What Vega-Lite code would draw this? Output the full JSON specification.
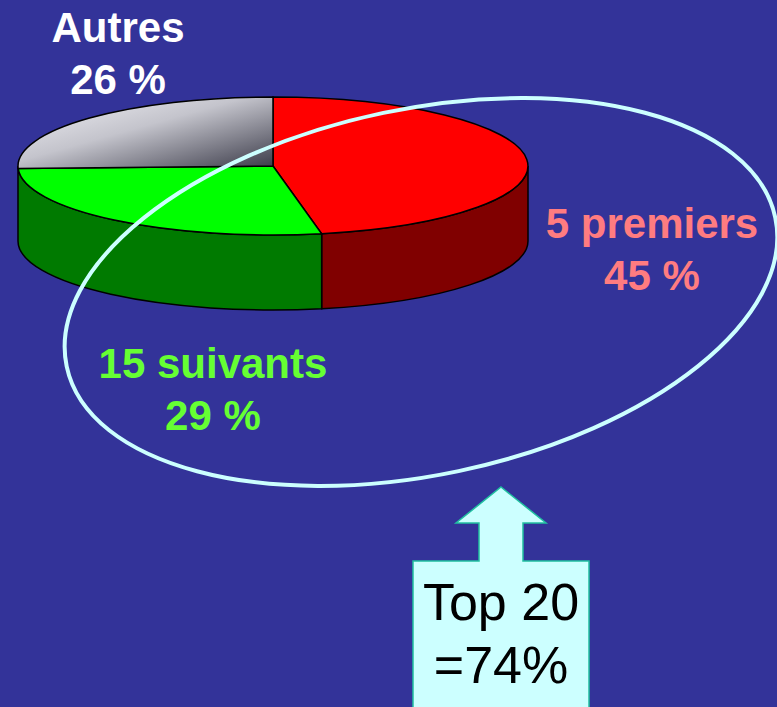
{
  "$schema": "https://vega.github.io/schema/vega-lite/v6.json",
  "width": 777,
  "height": 707,
  "autosize": {"type": "none"},
  "padding": 0,
  "background": "#333399",
  "config": {"view": {"stroke": null}},
  "datasets": {
    "slices": [
      {"part": "5 premiers", "pct": 45, "label": ["5 premiers", "45 %"]},
      {"part": "15 suivants", "pct": 29, "label": ["15 suivants", "29 %"]},
      {"part": "Autres", "pct": 26, "label": ["Autres", "26 %"]}
    ],
    "top20": [
      {"group": "Top 20", "pct": 74, "label": ["Top 20", "=74%"]}
    ]
  },
  "resolve": {"scale": {"shape": "independent", "color": "independent"}},
  "layer": [
    {
      "data": {"name": "slices"},
      "transform": [{"filter": {"field": "part", "oneOf": ["5 premiers", "15 suivants"]}}],
      "mark": {"type": "point", "filled": true, "opacity": 1, "size": 40000, "stroke": "#000000", "strokeWidth": 1.5},
      "encoding": {
        "x": {"datum": 35.135, "type": "quantitative", "scale": {"domain": [0, 100]}, "axis": null},
        "y": {"datum": 76.52, "type": "quantitative", "scale": {"domain": [0, 100]}, "axis": null},
        "shape": {"field": "part", "type": "nominal", "legend": null, "scale": {"domain": ["5 premiers", "15 suivants"], "range": ["M 2.55 0 A 2.55 0.69 0 0 1 0.4866 0.6773 L 0.4866 1.4273 A 2.55 0.69 0 0 0 2.55 0.75 Z", "M 0.4866 0.6773 A 2.55 0.69 0 0 1 -2.55 0 L -2.55 0.75 A 2.55 0.69 0 0 0 0.4866 1.4273 Z"]}},
        "color": {"field": "part", "type": "nominal", "legend": null, "scale": {"domain": ["5 premiers", "15 suivants"], "range": ["#800000", "#007a00"]}}
      }
    },
    {
      "data": {"name": "slices"},
      "transform": [{"filter": {"field": "part", "oneOf": ["5 premiers", "15 suivants"]}}],
      "mark": {"type": "point", "filled": true, "opacity": 1, "size": 40000, "stroke": "#000000", "strokeWidth": 1.5},
      "encoding": {
        "x": {"datum": 35.135, "type": "quantitative", "scale": {"domain": [0, 100]}, "axis": null},
        "y": {"datum": 76.52, "type": "quantitative", "scale": {"domain": [0, 100]}, "axis": null},
        "shape": {"field": "part", "type": "nominal", "legend": null, "scale": {"domain": ["5 premiers", "15 suivants"], "range": ["M 0 0 L 0 -0.69 A 2.55 0.69 0 0 1 0.4866 0.6773 Z", "M 0 0 L 0.4866 0.6773 A 2.55 0.69 0 0 1 -2.5484 0.0241 Z"]}},
        "color": {"field": "part", "type": "nominal", "legend": null, "scale": {"domain": ["5 premiers", "15 suivants"], "range": ["#ff0000", "#00ff00"]}}
      }
    },
    {
      "data": {"name": "slices"},
      "transform": [{"filter": {"field": "part", "equal": "Autres"}}],
      "mark": {"type": "point", "filled": true, "opacity": 1, "size": 40000, "stroke": "#000000", "strokeWidth": 1.5,
        "shape": "M 0 0 L -2.5484 0.0241 A 2.55 0.69 0 0 1 0 -0.69 Z",
        "fill": {"gradient": "linear", "x1": 0, "y1": 0, "x2": 1, "y2": 1, "stops": [{"offset": 0, "color": "#f4f4f8"}, {"offset": 0.45, "color": "#c4c4cc"}, {"offset": 1, "color": "#3a3a48"}]}},
      "encoding": {
        "x": {"datum": 35.135, "type": "quantitative", "scale": {"domain": [0, 100]}, "axis": null},
        "y": {"datum": 76.52, "type": "quantitative", "scale": {"domain": [0, 100]}, "axis": null}
      }
    },
    {
      "data": {"name": "top20"},
      "mark": {"type": "point", "filled": false, "opacity": 1, "size": 40000, "stroke": "#ccffff", "strokeWidth": 4,
        "shape": "M -3.543 0.7435 A 3.62 1.83 -11.85 1 1 3.543 -0.7435 A 3.62 1.83 -11.85 1 1 -3.543 0.7435 Z"},
      "encoding": {
        "x": {"datum": 54.18, "type": "quantitative", "scale": {"domain": [0, 100]}, "axis": null},
        "y": {"datum": 58.7, "type": "quantitative", "scale": {"domain": [0, 100]}, "axis": null}
      }
    },
    {
      "data": {"name": "slices"},
      "transform": [{"filter": {"field": "part", "equal": "Autres"}}],
      "mark": {"type": "text", "font": "Liberation Sans", "fontWeight": "bold", "fontSize": 42, "align": "center", "baseline": "alphabetic", "lineHeight": 52, "color": "#ffffff"},
      "encoding": {
        "x": {"datum": 15.19, "type": "quantitative", "scale": {"domain": [0, 100]}, "axis": null},
        "y": {"datum": 94.1, "type": "quantitative", "scale": {"domain": [0, 100]}, "axis": null},
        "text": {"field": "label"}
      }
    },
    {
      "data": {"name": "slices"},
      "transform": [{"filter": {"field": "part", "equal": "5 premiers"}}],
      "mark": {"type": "text", "font": "Liberation Sans", "fontWeight": "bold", "fontSize": 42, "align": "center", "baseline": "alphabetic", "lineHeight": 52, "color": "#ff7c80"},
      "encoding": {
        "x": {"datum": 83.91, "type": "quantitative", "scale": {"domain": [0, 100]}, "axis": null},
        "y": {"datum": 66.34, "type": "quantitative", "scale": {"domain": [0, 100]}, "axis": null},
        "text": {"field": "label"}
      }
    },
    {
      "data": {"name": "slices"},
      "transform": [{"filter": {"field": "part", "equal": "15 suivants"}}],
      "mark": {"type": "text", "font": "Liberation Sans", "fontWeight": "bold", "fontSize": 42, "align": "center", "baseline": "alphabetic", "lineHeight": 52, "color": "#66ff33"},
      "encoding": {
        "x": {"datum": 27.41, "type": "quantitative", "scale": {"domain": [0, 100]}, "axis": null},
        "y": {"datum": 46.53, "type": "quantitative", "scale": {"domain": [0, 100]}, "axis": null},
        "text": {"field": "label"}
      }
    },
    {
      "data": {"name": "top20"},
      "mark": {"type": "point", "filled": true, "opacity": 1, "size": 40000, "fill": "#ccffff", "stroke": "#20c0a0", "strokeWidth": 1.5,
        "shape": "M 0 -1.1 L 0.45 -0.74 L 0.22 -0.74 L 0.22 -0.36 L 0.88 -0.36 L 0.88 1.12 L -0.88 1.12 L -0.88 -0.36 L -0.22 -0.36 L -0.22 -0.74 L -0.45 -0.74 Z"},
      "encoding": {
        "x": {"datum": 64.479, "type": "quantitative", "scale": {"domain": [0, 100]}, "axis": null},
        "y": {"datum": 15.559, "type": "quantitative", "scale": {"domain": [0, 100]}, "axis": null}
      }
    },
    {
      "data": {"name": "top20"},
      "mark": {"type": "text", "font": "Liberation Sans", "fontSize": 52, "align": "center", "baseline": "alphabetic", "lineHeight": 63, "color": "#000000"},
      "encoding": {
        "x": {"datum": 64.479, "type": "quantitative", "scale": {"domain": [0, 100]}, "axis": null},
        "y": {"datum": 12.3, "type": "quantitative", "scale": {"domain": [0, 100]}, "axis": null},
        "text": {"field": "label"}
      }
    }
  ]
}
